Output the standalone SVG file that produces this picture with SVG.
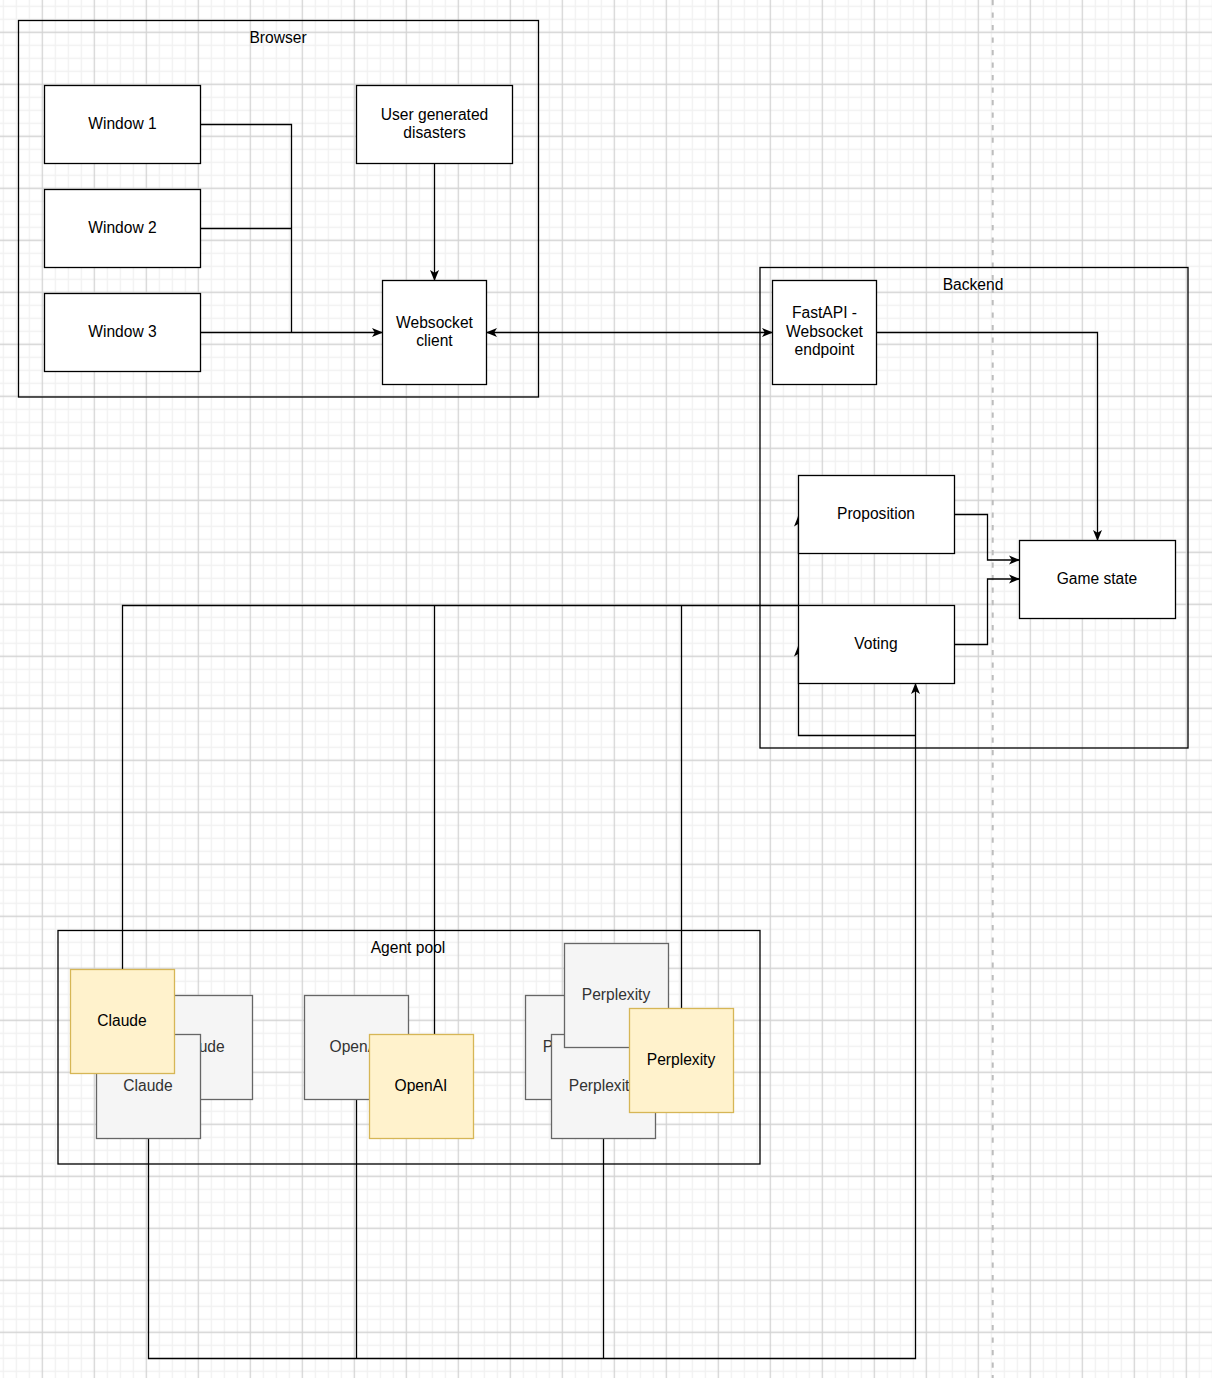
<svg xmlns="http://www.w3.org/2000/svg" width="1212" height="1378" viewBox="0 0 1212 1378">
<defs>
<pattern id="grid" x="9.8" y="-0.2" width="52" height="52" patternUnits="userSpaceOnUse">
<path d="M6.5 0V52M19.5 0V52M45.5 0V52M0 6.5H52M0 19.5H52M0 45.5H52" stroke="#f1f1f1" stroke-width="1.3" fill="none"/>
<path d="M32.5 0V52M0 32.5H52" stroke="#d3d3d3" stroke-width="1.3" fill="none"/>
</pattern>
<marker id="arr" viewBox="0 0 11 10" refX="10.5" refY="5" markerWidth="11" markerHeight="10" markerUnits="userSpaceOnUse" orient="auto-start-reverse">
<path d="M0,0.5 L11,5 L0,9.5 L2.8,5 Z" fill="#000"/>
</marker>
<style>
.c{fill:none;stroke:#000;stroke-width:1.3}
.n{fill:#fff;stroke:#000;stroke-width:1.3}
.g{fill:#f5f5f5;stroke:#666;stroke-width:1.3}
.y{fill:#fff2cc;stroke:#d6b656;stroke-width:1.3}
.e{fill:none;stroke:#000;stroke-width:1.3}
text{font-family:"Liberation Sans",Arial,Helvetica,sans-serif;font-size:15.6px;text-anchor:middle;fill:#000}
.gt{fill:#333}
.a{marker-end:url(#arr)}
</style>
</defs>
<rect width="1212" height="1378" fill="#fff"/>
<rect width="1212" height="1378" fill="url(#grid)"/>
<line x1="992.7" y1="0" x2="992.7" y2="1378" stroke="#bdbdbd" stroke-width="2" stroke-dasharray="5.3 7.2"/>

<g id="browser"><rect class="e" x="18.5" y="20.5" width="520" height="376.5"/><text x="278" y="42.5">Browser</text></g>
<g id="backend"><rect class="e" x="760" y="267.5" width="428" height="480.5"/><text x="973" y="289.5">Backend</text></g>
<g id="agent-pool"><rect class="e" x="58" y="930.5" width="702" height="233.5"/><text x="408" y="952.5">Agent pool</text></g>

<g id="connectors">
<path class="c" d="M200.5,124.5 H291.5 V332.5"/>
<path class="c" d="M200.5,228.5 H291.5"/>
<path class="c a" d="M200.5,332.5 H382.5"/>
<path class="c a" d="M434.5,163.5 V280.5"/>
<path class="c a" d="M486.5,332.5 H772.5" style="marker-start:url(#arr)"/>
<path class="c a" d="M876.5,332.5 H1097.5 V540.5"/>
<path class="c a" d="M954.5,514.5 H987.5 V560 H1019.5"/>
<path class="c a" d="M954.5,644.5 H987.5 V579 H1019.5"/>
<path class="c a" d="M122.5,969.5 V605.5 H798.5 V516"/>
<path class="c" d="M434.5,1034.5 V605.5"/>
<path class="c" d="M681.5,1008.5 V605.5"/>
<path class="c a" d="M148.5,1138.5 V1358.5 H915.5 V683.5"/>
<path class="c" d="M356.5,1099.5 V1358.5"/>
<path class="c" d="M603.5,1138.5 V1358.5"/>
<path class="c a" d="M915.5,735.5 H798.5 V646"/>
</g>

<g id="window1"><rect class="n" x="44.5" y="85.5" width="156" height="78"/><text x="122.5" y="128.5">Window 1</text></g>
<g id="window2"><rect class="n" x="44.5" y="189.5" width="156" height="78"/><text x="122.5" y="232.5">Window 2</text></g>
<g id="window3"><rect class="n" x="44.5" y="293.5" width="156" height="78"/><text x="122.5" y="336.5">Window 3</text></g>
<g id="user-disasters"><rect class="n" x="356.5" y="85.5" width="156" height="78"/><text x="434.5" y="119.5">User generated</text><text x="434.5" y="137.5">disasters</text></g>
<g id="ws-client"><rect class="n" x="382.5" y="280.5" width="104" height="104"/><text x="434.5" y="327.5">Websocket</text><text x="434.5" y="345.5">client</text></g>
<g id="fastapi"><rect class="n" x="772.5" y="280.5" width="104" height="104"/><text x="824.5" y="317.5">FastAPI -</text><text x="824.5" y="336.5">Websocket</text><text x="824.5" y="354.5">endpoint</text></g>
<g id="proposition"><rect class="n" x="798.5" y="475.5" width="156" height="78"/><text x="876" y="518.5">Proposition</text></g>
<g id="voting"><rect class="n" x="798.5" y="605.5" width="156" height="78"/><text x="876" y="648.5">Voting</text></g>
<g id="game-state"><rect class="n" x="1019.5" y="540.5" width="156" height="78"/><text x="1097" y="583.5">Game state</text></g>

<g id="claude-back"><rect class="g" x="148.5" y="995.5" width="104" height="104"/><text class="gt" x="200" y="1051.5">Claude</text></g>
<g id="claude-front"><rect class="g" x="96.5" y="1034.5" width="104" height="104"/><text class="gt" x="148" y="1090.5">Claude</text></g>
<g id="claude"><rect class="y" x="70.5" y="969.5" width="104" height="104"/><text x="122" y="1025.5">Claude</text></g>
<g id="openai-back"><rect class="g" x="304.5" y="995.5" width="104" height="104"/><text class="gt" x="356" y="1051.5">OpenAI</text></g>
<g id="openai"><rect class="y" x="369.5" y="1034.5" width="104" height="104"/><text x="421" y="1090.5">OpenAI</text></g>
<g id="perplexity-back"><rect class="g" x="525.5" y="995.5" width="104" height="104"/><text class="gt" x="577" y="1051.5">Perplexity</text></g>
<g id="perplexity-front"><rect class="g" x="551.5" y="1034.5" width="104" height="104"/><text class="gt" x="603" y="1090.5">Perplexity</text></g>
<g id="perplexity-top"><rect class="g" x="564.5" y="943.5" width="104" height="104"/><text class="gt" x="616" y="999.5">Perplexity</text></g>
<g id="perplexity"><rect class="y" x="629.5" y="1008.5" width="104" height="104"/><text x="681" y="1064.5">Perplexity</text></g>
</svg>
